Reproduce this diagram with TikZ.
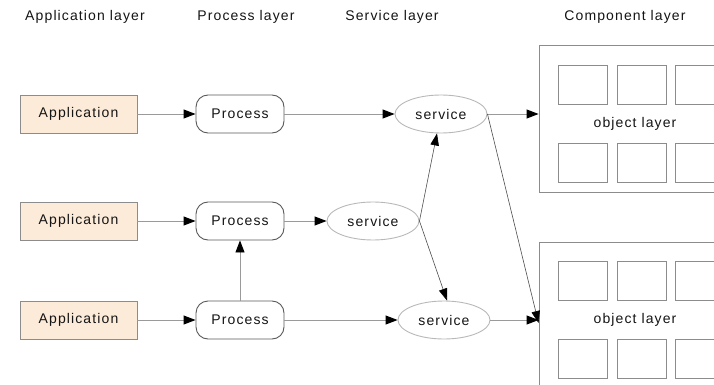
\documentclass[tikz,border=0pt]{standalone}
\usepackage{fontspec}
\setmainfont{Liberation Sans}[LetterSpace=8]
\usetikzlibrary{arrows.meta,shapes.geometric}
\definecolor{appfill}{HTML}{FDEBD9}
\definecolor{edgegray}{HTML}{8C8C8C}
\definecolor{linegray}{HTML}{9A9A9A}
\definecolor{ellgray}{HTML}{B8B8B8}
\definecolor{txt}{HTML}{141414}
\tikzset{
  every node/.style={font=\fontsize{14}{16}\selectfont, text=txt},
  appbox/.style={draw=edgegray, fill=appfill, line width=0.9pt, minimum width=117, minimum height=38, inner sep=0},
  procbox/.style={draw=black!65, rounded corners=12pt, line width=0.9pt, minimum width=88, minimum height=38, inner sep=0},
  servell/.style={ellipse, draw=ellgray, line width=0.9pt, minimum width=92, minimum height=38, inner sep=0},
  compbox/.style={draw=edgegray, line width=0.9pt, minimum width=221, minimum height=147, inner sep=0},
  objbox/.style={draw=edgegray, line width=0.9pt, minimum width=49, minimum height=39, inner sep=0},
  harrow/.style={draw=linegray, line width=0.9pt, -{Triangle[length=12pt,width=9pt,color=black]}},
  darrow/.style={draw=black!70, line width=0.6pt, -{Triangle[length=12pt,width=8.5pt,color=black]}},
  title/.style={anchor=center}
}
\begin{document}
\begin{tikzpicture}[x=1pt,y=-1pt]
\useasboundingbox (0,0) rectangle (714,385);
% titles
\node[title] (t1) at (85,17) {Application layer};
\node[title] (t2) at (246,17) {Process layer};
\node[title] (t3) at (392,17) {Service layer};
\node[title] (t4) at (625,17) {Component layer};
% applications
\node[appbox] (a1) at (78.5,114) {Application};
\node[appbox] (a2) at (78.5,221) {Application};
\node[appbox] (a3) at (78.5,320) {Application};
% processes
\node[procbox] (p1) at (240,114) {Process};
\node[procbox] (p2) at (240,221) {Process};
\node[procbox] (p3) at (240,320) {Process};
% services
\node[servell] (s1) at (441,114) {service};
\node[servell] (s2) at (373,221) {service};
\node[servell] (s3) at (444,320) {service};
% components
\node[compbox] (c1) at (649.5,118.5) {};
\node[compbox] (c2) at (649.5,316) {};
\node (o1) at (635,124) {object layer};
\node (o2) at (635,320) {object layer};
% object boxes, top component
\node[objbox] (b11) at (582.5,84.5) {};
\node[objbox] (b12) at (641.5,84.5) {};
\node[objbox] (b13) at (699.5,84.5) {};
\node[objbox] (b14) at (582.5,163) {};
\node[objbox] (b15) at (641.5,163) {};
\node[objbox] (b16) at (699.5,163) {};
% object boxes, bottom component
\node[objbox] (b21) at (582.5,280.5) {};
\node[objbox] (b22) at (641.5,280.5) {};
\node[objbox] (b23) at (699.5,280.5) {};
\node[objbox] (b24) at (582.5,358.5) {};
\node[objbox] (b25) at (641.5,358.5) {};
\node[objbox] (b26) at (699.5,358.5) {};
% connectors
\draw[harrow] (a1) -- (p1);
\draw[harrow] (a2) -- (p2);
\draw[harrow] (a3) -- (p3);
\draw[harrow] (p1) -- (s1);
\draw[harrow] (p2) -- (s2);
\draw[harrow] (p3) -- (s3);
\draw[harrow] (p3) -- (p2);
\draw[harrow] (s1.east) -- (s1.east -| c1.west);
\draw[harrow] (s3.east) -- (s3.east -| c2.west);
\draw[darrow] (s2.east) -- ([xshift=-4]s1.south);
\draw[darrow] (s2.east) -- ([xshift=3]s3.north);
\draw[darrow] (s1.east) -- ([yshift=-3]s3.east -| c2.west);
\end{tikzpicture}
\end{document}
